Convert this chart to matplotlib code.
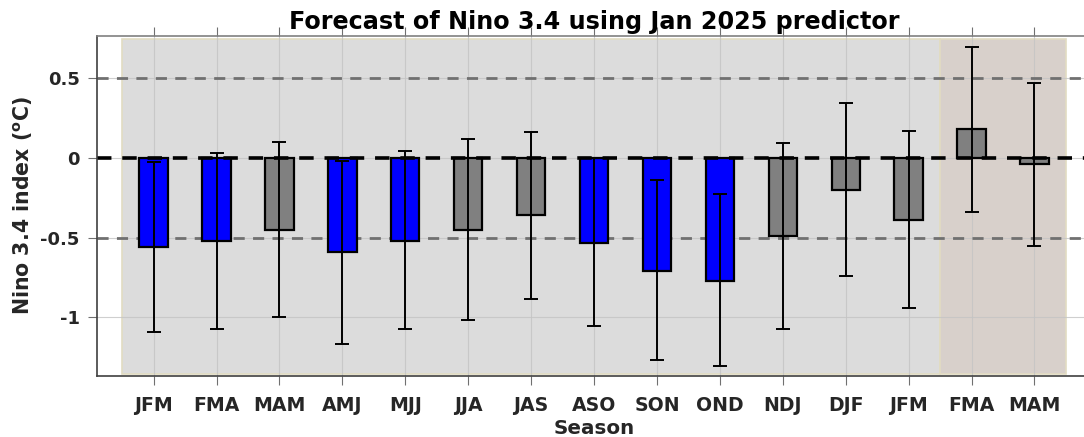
import matplotlib
matplotlib.use("Agg")
import matplotlib.pyplot as plt
import numpy as np

seasons = ["JFM", "FMA", "MAM", "AMJ", "MJJ", "JJA", "JAS", "ASO", "SON",
           "OND", "NDJ", "DJF", "JFM", "FMA", "MAM"]
forecast = [-0.56, -0.52, -0.45, -0.59, -0.52, -0.45, -0.36, -0.53, -0.71,
            -0.77, -0.49, -0.20, -0.39, 0.18, -0.04]
err_upper = [-0.025, 0.03, 0.10, -0.02, 0.045, 0.12, 0.165, 0.0, -0.14,
             -0.225, 0.095, 0.345, 0.17, 0.695, 0.47]
err_lower = [-1.09, -1.07, -1.0, -1.165, -1.07, -1.015, -0.885, -1.055, -1.265,
             -1.305, -1.07, -0.74, -0.94, -0.34, -0.55]
colors = ["blue", "blue", "gray", "blue", "blue", "gray", "gray", "blue", "blue",
          "blue", "gray", "gray", "gray", "gray", "gray"]

x = np.arange(1, len(seasons) + 1)
fc = np.array(forecast)
yerr = np.vstack([fc - np.array(err_lower), np.array(err_upper) - fc])

fig = plt.figure(figsize=(10.84, 4.37), dpi=100)
ax = fig.add_axes([0.0895, 0.1396, 0.917, 0.778])

ylo, yhi = -1.367, 0.765
ax.set_xlim(0.1, 15.9)
ax.set_ylim(ylo, yhi)

# shaded regions
b = (-1.352 - ylo) / (yhi - ylo)
t = (0.748 - ylo) / (yhi - ylo)
ax.axvspan(0.5, 13.5, ymin=b, ymax=t,
           facecolor="#dcdcdc", edgecolor="#e2dcc2", linewidth=1.2, zorder=0)
ax.axvspan(13.5, 15.5, ymin=b, ymax=t,
           facecolor="#d8d0cb", edgecolor="#e2dcc2", linewidth=1.2, zorder=0)

ax.grid(True, color="#c4c4c4", linewidth=0.8, alpha=0.8, zorder=0.5)
ax.set_axisbelow(True)

ax.axhline(0.5, color="#707070", linestyle=(0, (4, 3)), linewidth=2, zorder=1)
ax.axhline(-0.5, color="#707070", linestyle=(0, (4, 3)), linewidth=2, zorder=1)

ax.bar(x, forecast, width=0.45, color=colors, edgecolor="black", linewidth=1.6, zorder=2)
ax.axhline(0, color="black", linestyle=(0, (4, 3)), linewidth=2.6, zorder=2.5)
ax.errorbar(x, forecast, yerr=yerr, fmt="none", ecolor="black", elinewidth=1.4,
            capsize=4.7, capthick=1.4, zorder=3)

ax.set_xticks(x)
ax.set_xticklabels(seasons, fontsize=13.6, fontweight="bold", color="#262626")
ax.set_yticks([0.5, 0, -0.5, -1])
ax.set_yticklabels(["0.5", "0", "-0.5", "-1"], fontsize=13, fontweight="bold", color="#262626")
ax.tick_params(axis="x", which="both", direction="out", length=6.5, color="#707070",
               top=True, pad=8)
ax.tick_params(axis="y", direction="out", length=6.5, color="#707070", pad=6)

ax.set_xlabel("Season", fontsize=14.3, fontweight="bold", color="#262626", labelpad=2.5)
ax.set_ylabel(r"Nino 3.4 index ($\mathbf{^{o}}$C)", fontsize=14.8, fontweight="bold",
              color="#262626", labelpad=3.5)
ax.set_title("Forecast of Nino 3.4 using Jan 2025 predictor", fontsize=17.2,
             fontweight="bold", pad=5)

for s in ["left", "bottom"]:
    ax.spines[s].set_color("#404040")
    ax.spines[s].set_linewidth(1.2)
ax.spines["top"].set_color("#808080")
ax.spines["top"].set_linewidth(1.2)
ax.spines["right"].set_visible(False)

fig.savefig("out.png", dpi=100)
